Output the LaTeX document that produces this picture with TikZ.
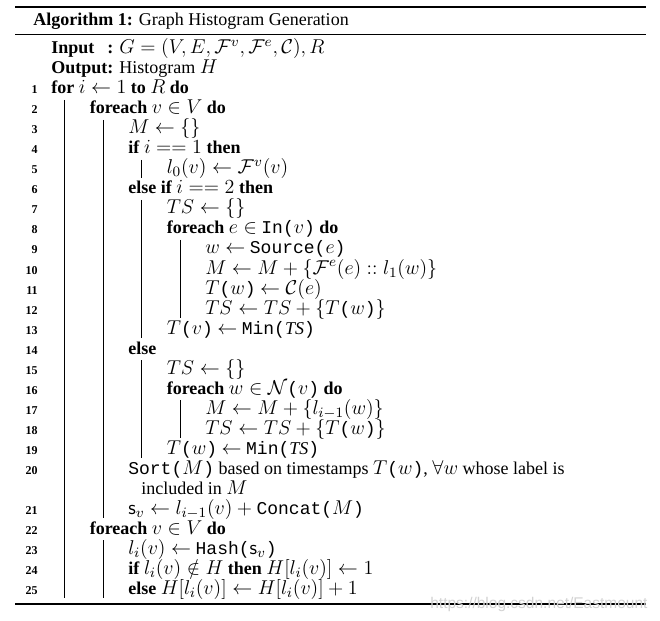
\RequirePackage{fix-cm}
\documentclass[tikz,border=0pt]{standalone}
\usepackage[no-math]{fontspec}
\setmainfont{Liberation Serif}
\setmonofont{Liberation Mono}
\newfontfamily\wmfont{Liberation Sans}
\usetikzlibrary{calc}
\DeclareMathSizes{10.8}{12}{8.6}{6.5}

\tikzset{
  code/.style={anchor=base west, inner sep=0pt},
  lnum/.style={anchor=base east, inner sep=0pt, font=\fontsize{7.2}{8}\selectfont\bfseries},
  vbar/.style={line width=0.6pt},
}

\begin{document}
\begin{tikzpicture}[x=0.6pt,y=-0.6pt,font=\fontsize{10.8}{13}\selectfont]
      \useasboundingbox (0,0) rectangle (660,620);

      % Rules
      \draw[line width=1.2pt] (15,7) -- (646,7);
      \draw[line width=0.8pt] (15,34.5) -- (646,34.5);
      \draw[line width=1.2pt] (15,604) -- (646,604);

      % Caption and header
      \node[code] (title) at (33,26) {\textbf{Algorithm 1:} Graph Histogram Generation};
      \node[code] (input) at (51,54) {\textbf{\makebox[0pt][l]{Input}\phantom{Output}:} $G=(V,E,\mathcal{F}^v,\mathcal{F}^e,\mathcal{C}),R$};
      \node[code] (output) at (51,74) {\textbf{Output:} Histogram $H$};

      % Line numbers
      \foreach \n in {1,...,25}
      {
        \pgfmathtruncatemacro\r{\n>20 ? \n+1 : \n}
        \node[lnum] (n\n) at (38,{74+20*\r}) {\n};
      }

      % Body
      \node[code] (l1) at (51,94) {\textbf{for} $i \leftarrow 1$ \textbf{to} $R$ \textbf{do}};
      \node[code] (l2) at (89.5,114) {\textbf{foreach} $v \in V$ \textbf{do}};
      \node[code] (l3) at (128,134) {$M \leftarrow \{\}$};
      \node[code] (l4) at (128,154) {\textbf{if} $i == 1$ \textbf{then}};
      \node[code] (l5) at (166.5,174) {$l_0(v) \leftarrow \mathcal{F}^v(v)$};
      \node[code] (l6) at (128,194) {\textbf{else if} $i == 2$ \textbf{then}};
      \node[code] (l7) at (166.5,214) {$TS \leftarrow \{\}$};
      \node[code] (l8) at (166.5,234) {\textbf{foreach} $e \in$ \texttt{In(}$v$\texttt{)} \textbf{do}};
      \node[code] (l9) at (205,254) {$w \leftarrow$ \texttt{Source(}$e$\texttt{)}};
      \node[code] (l10) at (205,274) {$M \leftarrow M + \{\mathcal{F}^e(e) :: l_1(w)\}$};
      \node[code] (l11) at (205,294) {$T$\texttt{(}$w$\texttt{)} $\leftarrow \mathcal{C}(e)$};
      \node[code] (l12) at (205,314) {$TS \leftarrow TS + \{T$\texttt{(}$w$\texttt{)}$\}$};
      \node[code] (l13) at (166.5,334) {$T$\texttt{(}$v$\texttt{)} $\leftarrow$ \texttt{Min(}\textit{TS}\texttt{)}};
      \node[code] (l14) at (128,354) {\textbf{else}};
      \node[code] (l15) at (166.5,374) {$TS \leftarrow \{\}$};
      \node[code] (l16) at (166.5,394) {\textbf{foreach} $w \in \mathcal{N}$\texttt{(}$v$\texttt{)} \textbf{do}};
      \node[code] (l17) at (205,414) {$M \leftarrow M + \{l_{i-1}(w)\}$};
      \node[code] (l18) at (205,434) {$TS \leftarrow TS + \{T$\texttt{(}$w$\texttt{)}$\}$};
      \node[code] (l19) at (166.5,454) {$T$\texttt{(}$w$\texttt{)} $\leftarrow$ \texttt{Min(}\textit{TS}\texttt{)}};
      \node[code] (l20) at (128,474) {\texttt{Sort(}$M$\texttt{)} based on timestamps $T$\texttt{(}$w$\texttt{)}, $\forall w$ whose label is};
      \node[code] (l20b) at (141,494) {included in $M$};
      \node[code] (l21) at (128,514) {$\mathsf{s}_v \leftarrow l_{i-1}(v) + {}$\texttt{Concat(}$M$\texttt{)}};
      \node[code] (l22) at (89.5,534) {\textbf{foreach} $v \in V$ \textbf{do}};
      \node[code] (l23) at (128,554) {$l_i(v) \leftarrow$ \texttt{Hash(}$\mathsf{s}_v$\texttt{)}};
      \node[code] (l24) at (128,574) {\textbf{if} $l_i(v) \notin H$ \textbf{then} $H[l_i(v)] \leftarrow 1$};
      \node[code] (l25) at (128,594) {\textbf{else} $H[l_i(v)] \leftarrow H[l_i(v)] + 1$};

      % Block bars
      \foreach \x/\ya/\yb in {64/100/598, 103/120/518, 141.5/160/178, 141.5/200/338,
                              180/240/318, 141.5/360/458, 180/400/438, 103/540/598}
      {
        \draw[vbar] (\x,\ya) -- (\x,\yb);
      }

      % Watermark
      \node[code, text=gray!35, font=\wmfont\fontsize{9.3}{11}\selectfont] (mark) at (430,608) {https://blog.csdn.net/Eastmount};

  \end{tikzpicture}
\end{document}
